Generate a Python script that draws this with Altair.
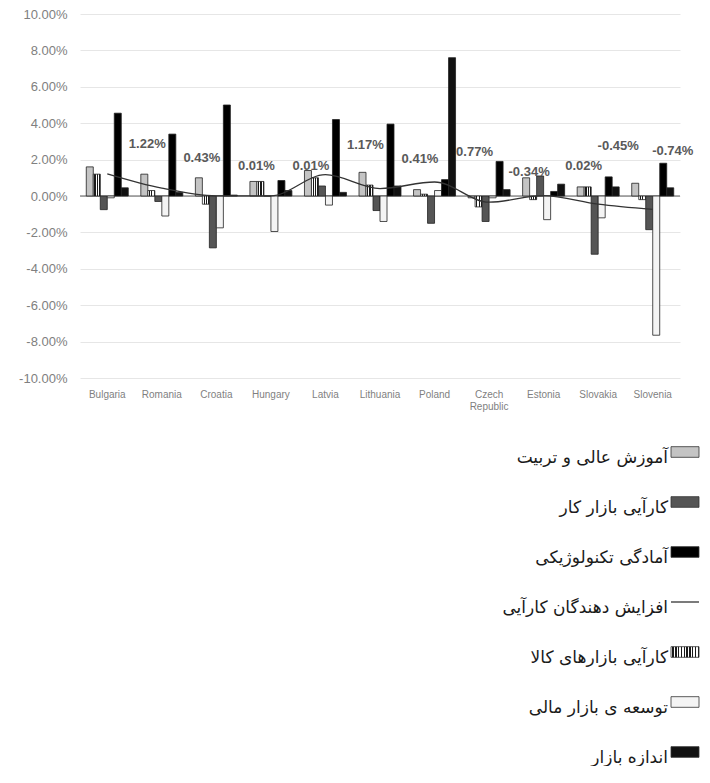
import altair as alt
import pandas as pd

countries = ["Bulgaria", "Romania", "Croatia", "Hungary", "Latvia", "Lithuania",
             "Poland", "Czech Republic", "Estonia", "Slovakia", "Slovenia"]

# values in percent
higher_edu = [1.6, 1.2, 1.0, 0.8, 1.4, 1.3, 0.35, -0.1, 1.0, 0.5, 0.7]
goods_mkt = [1.2, 0.3, -0.45, 0.8, 1.0, 0.6, 0.1, -0.6, -0.2, 0.5, -0.2]
labor_mkt = [-0.75, -0.3, -2.85, 0.0, 0.55, -0.8, -1.5, -1.4, 1.1, -3.2, -1.85]
financial = [-0.1, -1.1, -1.75, -1.95, -0.5, -1.4, 0.3, -0.1, -1.3, -1.2, -7.65]
tech_ready = [4.55, 3.4, 5.0, 0.85, 4.2, 3.95, 0.9, 1.9, 0.25, 1.05, 1.8]
market_size = [0.45, 0.2, 0.05, 0.3, 0.2, 0.55, 7.6, 0.35, 0.65, 0.5, 0.45]
efficiency = [1.22, 0.43, 0.01, 0.01, 1.17, 0.41, 0.77, -0.34, 0.02, -0.45, -0.74]

y_ticks = [-10, -8, -6, -4, -2, 0, 2, 4, 6, 8, 10]

series_keys = ["he", "gm", "lm", "fm", "tr", "ms"]
series_values = [higher_edu, goods_mkt, labor_mkt, financial, tech_ready, market_size]

legend_labels = [
    "آموزش عالی و تربیت",
    "کارآیی بازار کار",
    "آمادگی تکنولوژیکی",
    "افزایش دهندگان کارآیی",
    "کارآیی بازارهای کالا",
    "توسعه ی بازار مالی",
    "اندازه بازار",
]
legend_kinds = ["he", "lm", "tr", "line", "gm", "fm", "ms"]

# countries whose value labels sit closer to their group (right edge of the chart)
edge_labels = ["Slovakia", "Slovenia"]

rows = []
for key, vals in zip(series_keys, series_values):
    for c, v in zip(countries, vals):
        rows.append({"country": c, "series": key, "value": v})
bars_df = pd.DataFrame(rows)
line_df = pd.DataFrame({
    "country": countries,
    "value": efficiency,
    "label": [f"{v:.2f}%" for v in efficiency],
    "edge": [c in edge_labels for c in countries],
})
zero_df = pd.DataFrame({"value": [0]})
leg_df = pd.DataFrame({"name": legend_labels, "kind": legend_kinds})


def stripes(n, dark="#1a1a1a", light="#ffffff", frac=0.5):
    stops = []
    for i in range(n):
        a = i / n
        b = (i + frac) / n
        c = (i + 1) / n
        stops += [
            alt.GradientStop(color=light, offset=a),
            alt.GradientStop(color=light, offset=b),
            alt.GradientStop(color=dark, offset=b),
            alt.GradientStop(color=dark, offset=c),
        ]
    return alt.LinearGradient(gradient="linear", stops=stops, x1=0, x2=1, y1=0, y2=0)


bar_fills = {
    "he": "#c4c4c4",
    "gm": stripes(3),
    "lm": "#555555",
    "fm": "#f4f4f4",
    "tr": "#000000",
    "ms": "#111111",
}
legend_fills = dict(bar_fills)
legend_fills["gm"] = stripes(10)

x_enc = alt.X(
    "country:N",
    sort=countries,
    scale=alt.Scale(paddingInner=0.23, paddingOuter=0.115),
    axis=alt.Axis(
        title=None, labelAngle=0, domain=False, ticks=False,
        labelExpr="split(datum.label, ' ')",
        labelFontSize=10, labelColor="#7f7f7f", labelPadding=11,
        labelLineHeight=12, grid=False,
    ),
)
y_enc = alt.Y(
    "value:Q",
    scale=alt.Scale(domain=[-10, 10], nice=False),
    axis=alt.Axis(
        title=None, values=y_ticks, domain=False, ticks=False,
        labelExpr="replace(format(datum.value, '.2f'), '\u2212', '-') + '%'",
        labelFontSize=13, labelColor="#808080", labelPadding=13,
        minExtent=67, maxExtent=67,
        grid=True, gridColor="#e6e6e6", gridWidth=1,
    ),
)
xoff = alt.XOffset(
    "series:N", sort=series_keys,
    scale=alt.Scale(domain=series_keys, paddingInner=0, paddingOuter=0),
)

layers = [
    alt.Chart(zero_df).mark_rule(color="#595959", strokeWidth=1).encode(y=y_enc)
]
for key in series_keys:
    layers.append(
        alt.Chart(bars_df)
        .transform_filter(alt.datum.series == key)
        .mark_bar(fill=bar_fills[key], stroke="#222222", strokeWidth=0.8)
        .encode(x=x_enc, xOffset=xoff, y=y_enc)
    )
layers.append(
    alt.Chart(line_df)
    .mark_line(interpolate="monotone", color="#333333", strokeWidth=1.3)
    .encode(x=x_enc, y=y_enc)
)
label_style = dict(fontSize=13, fontWeight="bold", color="#595959")
layers.append(
    alt.Chart(line_df)
    .transform_filter(~alt.datum.edge)
    .mark_text(dx=40, dy=-30, **label_style)
    .encode(x=x_enc, y=y_enc, text="label:N")
)
layers.append(
    alt.Chart(line_df)
    .transform_filter(alt.datum.edge)
    .mark_text(dx=20, dy=-58, **label_style)
    .encode(x=x_enc, y=y_enc, text="label:N")
)

top = alt.layer(*layers).properties(width=600, height=364)

leg_y = alt.Y("name:N", sort=legend_labels,
              scale=alt.Scale(type="point", padding=0), axis=None)
RECT = "M-1,-0.38H1V0.38H-1Z"
leg_layers = []
for kind in legend_kinds:
    base = alt.Chart(leg_df).transform_filter(alt.datum.kind == kind)
    if kind == "line":
        mk = base.mark_point(shape="M-1,0H1", size=784, filled=False,
                             stroke="#333333", strokeWidth=1.3, opacity=1)
    else:
        mk = base.mark_point(shape=RECT, size=784, filled=True,
                             fill=legend_fills[kind], stroke="#333333",
                             strokeWidth=0.8, opacity=1)
    leg_layers.append(mk.encode(x=alt.value(605), y=leg_y))
leg_layers.append(
    alt.Chart(leg_df)
    .mark_text(align="right", baseline="middle", dy=6, font="DejaVu Sans",
               fontSize=17, color="#1a1a1a")
    .encode(x=alt.value(588), y=leg_y, text="name:N")
)
legend = alt.layer(*leg_layers).properties(width=600, height=300)

chart = (
    alt.vconcat(top, legend, spacing=34)
    .properties(padding={"left": 5, "top": 0, "right": 0, "bottom": 0})
    .configure(font="Liberation Sans")
    .configure_view(strokeWidth=0, stroke="transparent")
)

chart.save("out.html", embed_options={"renderer": "svg", "actions": False})
